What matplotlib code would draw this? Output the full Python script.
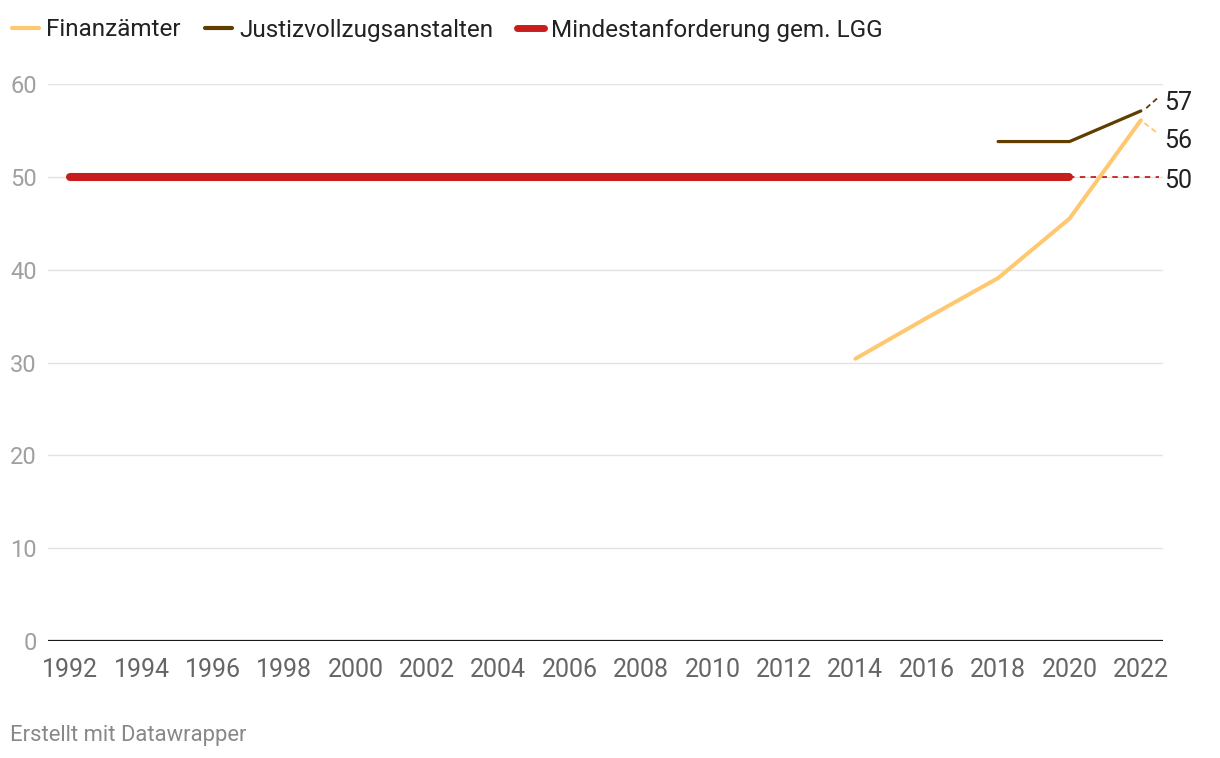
import matplotlib
matplotlib.use("Agg")
from matplotlib import pyplot as plt

plt.rcParams['font.family'] = ['Roboto', 'DejaVu Sans']

# data
years_fin = [2014, 2016, 2018, 2020, 2022]
fin_values = [30.4, 34.8, 39.1, 45.5, 56.1]

years_jva = [2018, 2020, 2022]
jva_values = [53.8, 53.8, 57.1]

years_lgg = [1992, 2020]
lgg_values = [50, 50]

x_ticks = list(range(1992, 2023, 2))
y_ticks = [0, 10, 20, 30, 40, 50, 60]

end_labels = [('57', 57.1), ('56', 56.1), ('50', 50)]

c_fin = '#ffc870'
c_jva = '#5f3e00'
c_lgg = '#c71e1d'

fig = plt.figure(figsize=(12.2, 7.58), dpi=100)
ax = fig.add_axes([48 / 1220, 1 - 641 / 758, (1163 - 48) / 1220, (641 - 84) / 758])

ax.set_xlim(1991.38, 2022.62)
ax.set_ylim(0, 60)

# grid lines
for y in y_ticks[1:]:
    ax.axhline(y, color='#e3e3e3', lw=1, zorder=0)
ax.axhline(0, color='#1a1a1a', lw=1.6, zorder=1)

# lines
ax.plot(years_lgg, lgg_values, color=c_lgg, lw=5.8, solid_capstyle='round', zorder=3,
        label='Mindestanforderung gem. LGG')
ax.plot([years_lgg[-1], 2022.5], [lgg_values[-1], lgg_values[-1]], color=c_lgg, lw=1.3,
        ls=(0, (3, 3)), zorder=2, clip_on=False)
ax.plot(years_fin, fin_values, color=c_fin, lw=2.9, solid_capstyle='round', zorder=4,
        label='Finanzämter')
ax.plot(years_jva, jva_values, color=c_jva, lw=2.3, solid_capstyle='round', zorder=5,
        label='Justizvollzugsanstalten')

# connector lines to end labels
ax.plot([2022.1, 2022.5], [fin_values[-1] - 0.3, 54.6], color=c_fin, lw=1.3,
        ls=(0, (3, 2)), clip_on=False)
ax.plot([2022.15, 2022.5], [jva_values[-1] + 0.3, 58.6], color=c_jva, lw=1.3,
        ls=(0, (3, 2)), clip_on=False)

label_y = {'57': 58.0, '56': 53.9, '50': 49.6}
for txt, v in end_labels:
    ax.text(2022.65, label_y[txt], txt, fontsize=18, color='#222222', va='center',
            ha='left', clip_on=False)

ax.set_xticks(x_ticks)
ax.set_xticklabels([str(x) for x in x_ticks])
ax.set_yticks(y_ticks)
ax.set_yticklabels([str(y) for y in y_ticks])
ax.tick_params(axis='x', length=0, pad=12, labelsize=18, labelcolor='#666666')
ax.tick_params(axis='y', length=0, pad=8, labelsize=17, labelcolor='#a0a0a0')

for s in ax.spines.values():
    s.set_visible(False)

# legend
handles, labels = ax.get_legend_handles_labels()
order = [1, 2, 0]
leg = fig.legend([handles[i] for i in order], [labels[i] for i in order],
                 loc='center left', bbox_to_anchor=(0.0, 1 - 30 / 758), ncol=3,
                 frameon=False, fontsize=17.5, handlelength=1.1, handletextpad=0.3,
                 columnspacing=1.0, borderaxespad=0.1)
for t in leg.get_texts():
    t.set_color('#222222')
for h, w in zip(leg.get_lines(), [3, 3, 5]):
    h.set_solid_capstyle('round')
    h.set_linewidth(w)

fig.text(10 / 1220, 1 - 735 / 758, 'Erstellt mit Datawrapper', fontsize=15.8,
         color='#888888', va='center', ha='left')

plt.savefig('out.png', dpi=100)
